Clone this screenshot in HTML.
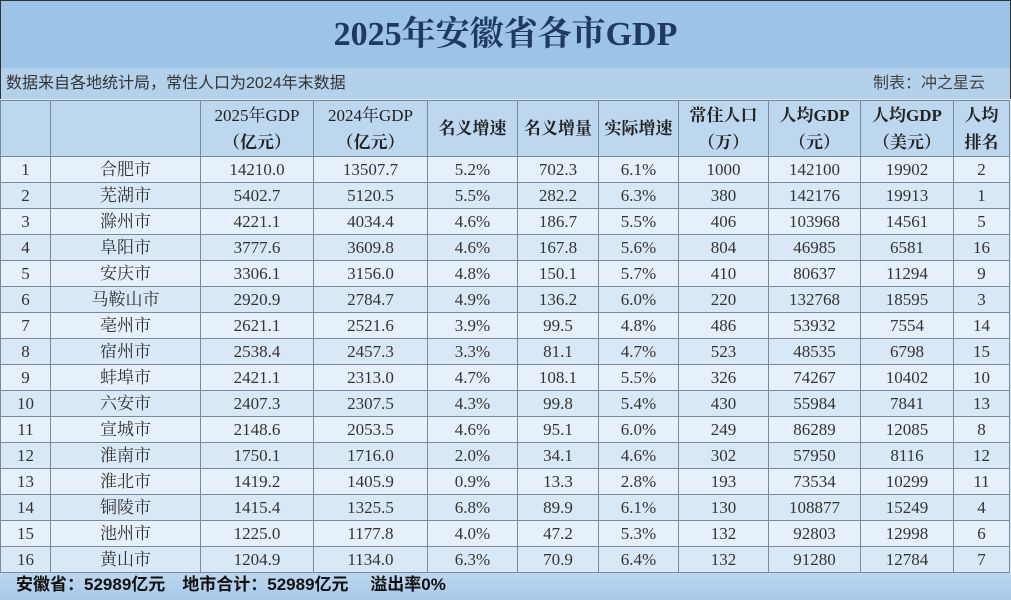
<!DOCTYPE html>
<html><head><meta charset="utf-8">
<style>
html,body{margin:0;padding:0;}
body{width:1011px;height:600px;overflow:hidden;background:#ddebf7;position:relative;font-family:"Liberation Serif","Noto Serif CJK SC",serif;}
#title{position:absolute;left:0;top:0;width:1009px;height:67px;background:#9dc3e6;border:1px solid #333;border-bottom:1px solid #222;text-align:center;line-height:68px;font-size:34px;font-weight:bold;color:#1f3864;}
#sub{position:absolute;left:0;top:68px;width:1009px;height:31px;background:#b4d1ec;border-left:1px solid #333;border-right:1px solid #333;font-family:"Liberation Sans","Noto Sans CJK SC",sans-serif;font-size:16px;color:#333;line-height:32px;}
#sub .l{position:absolute;left:5px;}
#sub .r{position:absolute;right:25px;color:#444;}
table{position:absolute;left:0;top:100px;border-collapse:collapse;table-layout:fixed;width:1009px;}
td{border:1px solid #7b8a99;text-align:center;padding:0;font-size:17px;color:#333;height:25px;line-height:25px;overflow:hidden;white-space:nowrap;}
thead td{background:#bdd7ee;height:55px;line-height:27px;font-weight:bold;font-size:17px;color:#222;}
thead td.n{font-weight:normal;}
tbody tr:nth-child(odd) td{background:#e6f0fa;}
tbody tr:nth-child(even) td{background:#d9e8f6;}
#foot{position:absolute;left:0;top:573px;width:1011px;height:27px;background:linear-gradient(#bcd6ee,#a9c9e8);font-family:"Liberation Sans","Noto Sans CJK SC",sans-serif;font-size:17px;font-weight:bold;color:#111;line-height:24px;}
#foot span{position:absolute;left:16px;}
</style></head><body>
<div id="title">2025年安徽省各市GDP</div>
<div id="sub"><span class="l">数据来自各地统计局，常住人口为2024年末数据</span><span class="r">制表：冲之星云</span></div>
<table>
<colgroup><col style="width:50px"><col style="width:150px"><col style="width:113px"><col style="width:114px"><col style="width:90px"><col style="width:81px"><col style="width:80px"><col style="width:90px"><col style="width:92px"><col style="width:93px"><col style="width:56px"></colgroup>
<thead><tr>
<td></td><td></td>
<td class="n">2025年GDP<br><b>（亿元）</b></td>
<td class="n">2024年GDP<br><b>（亿元）</b></td>
<td>名义增速</td>
<td>名义增量</td>
<td>实际增速</td>
<td>常住人口<br>（万）</td>
<td>人均GDP<br>（元）</td>
<td>人均GDP<br>（美元）</td>
<td>人均<br>排名</td>
</tr></thead>
<tbody id="tb"></tbody>
</table>
<div id="foot"><span>安徽省：52989亿元　地市合计：52989亿元　 溢出率0%</span></div>
<script>
const cities=["合肥市","芜湖市","滁州市","阜阳市","安庆市","马鞍山市","亳州市","宿州市","蚌埠市","六安市","宣城市","淮南市","淮北市","铜陵市","池州市","黄山市"];
const gdp2025=["14210.0","5402.7","4221.1","3777.6","3306.1","2920.9","2621.1","2538.4","2421.1","2407.3","2148.6","1750.1","1419.2","1415.4","1225.0","1204.9"];
const gdp2024=["13507.7","5120.5","4034.4","3609.8","3156.0","2784.7","2521.6","2457.3","2313.0","2307.5","2053.5","1716.0","1405.9","1325.5","1177.8","1134.0"];
const nomGrowth=["5.2%","5.5%","4.6%","4.6%","4.8%","4.9%","3.9%","3.3%","4.7%","4.3%","4.6%","2.0%","0.9%","6.8%","4.0%","6.3%"];
const nomInc=["702.3","282.2","186.7","167.8","150.1","136.2","99.5","81.1","108.1","99.8","95.1","34.1","13.3","89.9","47.2","70.9"];
const realGrowth=["6.1%","6.3%","5.5%","5.6%","5.7%","6.0%","4.8%","4.7%","5.5%","5.4%","6.0%","4.6%","2.8%","6.1%","5.3%","6.4%"];
const pop=["1000","380","406","804","410","220","486","523","326","430","249","302","193","130","132","132"];
const pcCny=["142100","142176","103968","46985","80637","132768","53932","48535","74267","55984","86289","57950","73534","108877","92803","91280"];
const pcUsd=["19902","19913","14561","6581","11294","18595","7554","6798","10402","7841","12085","8116","10299","15249","12998","12784"];
const rank=["2","1","5","16","9","3","14","15","10","13","8","12","11","4","6","7"];
const tb=document.getElementById('tb');
cities.forEach((c,i)=>{
  const tr=document.createElement('tr');
  
  
  [String(i+1),c,gdp2025[i],gdp2024[i],nomGrowth[i],nomInc[i],realGrowth[i],pop[i],pcCny[i],pcUsd[i],rank[i]].forEach(v=>{
    const td=document.createElement('td');
    
    
    td.textContent=v;tr.appendChild(td);
  });
  tb.appendChild(tr);
});
</script>
</body></html>
